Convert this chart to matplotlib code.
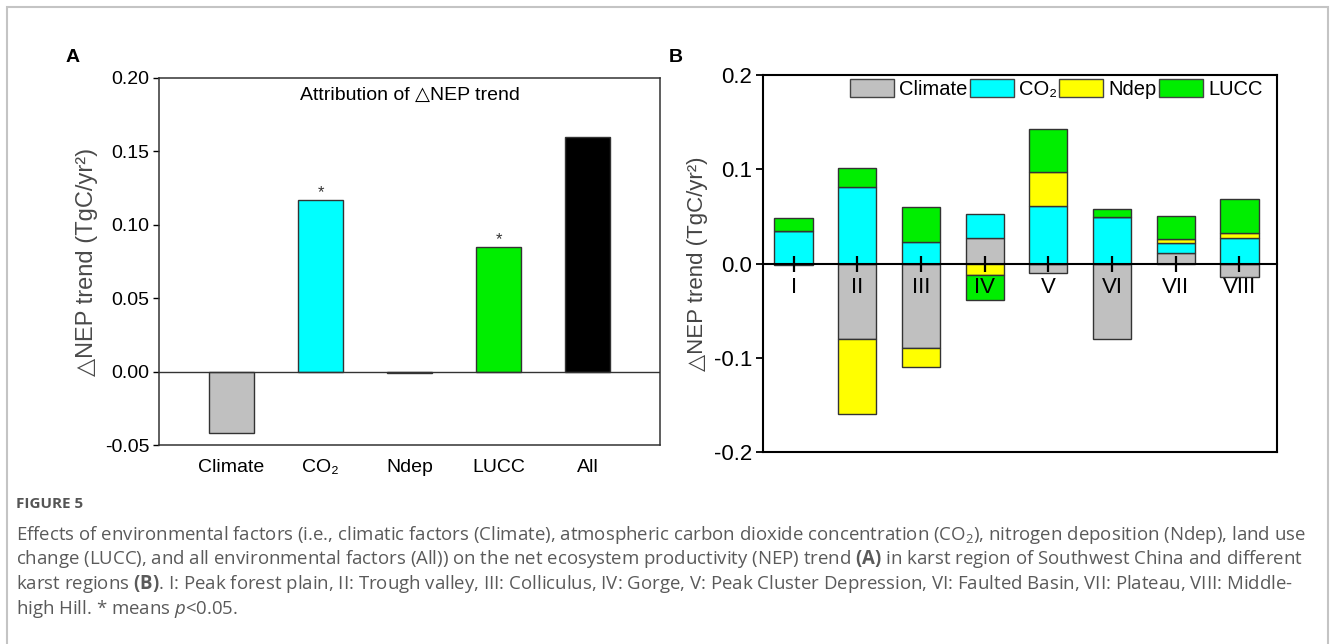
import numpy as np
import matplotlib
matplotlib.use("Agg")
import matplotlib.pyplot as plt
from matplotlib.patches import Patch, Rectangle

plt.rcParams["font.family"] = ["Liberation Sans", "DejaVu Sans"]
plt.rcParams["mathtext.fontset"] = "custom"
plt.rcParams["mathtext.rm"] = "Open Sans"
plt.rcParams["mathtext.bf"] = "Open Sans:bold"
plt.rcParams["mathtext.it"] = "Open Sans:italic"

# ---- data: panel A (whole karst region) ----
factors_a = ["Climate", "CO₂", "Ndep", "LUCC", "All"]
trend_a = [-0.042, 0.117, -0.001, 0.085, 0.160]
signif_a = [False, True, False, True, False]
colors_a = ["#C0C0C0", "#00FFFF", "#FFFF00", "#00EE00", "#000000"]

# ---- data: panel B (karst sub-regions) ----
regions = ["I", "II", "III", "IV", "V", "VI", "VII", "VIII"]
climate = [-0.0015, -0.080, -0.090, 0.027, -0.010, -0.080, 0.011, -0.014]
co2 = [0.034, 0.081, 0.023, 0.026, 0.061, 0.049, 0.011, 0.027]
ndep = [0.000, -0.080, -0.020, -0.012, 0.036, 0.000, 0.0035, 0.0053]
lucc = [0.014, 0.020, 0.037, -0.027, 0.046, 0.009, 0.025, 0.036]
series_b = [("Climate", climate, "#C0C0C0"), ("CO₂", co2, "#00FFFF"),
            ("Ndep", ndep, "#FFFF00"), ("LUCC", lucc, "#00EE00")]

YLABEL = "△NEP trend (TgC/yr²)"
W, H = 1330, 644

fig = plt.figure(figsize=(W / 100, H / 100), dpi=100)

def box(l, t, r, b):
    return [l / W, 1 - b / H, (r - l) / W, (b - t) / H]

# ================= panel A =================
axA = fig.add_axes(box(159, 78, 660, 445))
xa = np.arange(1, len(factors_a) + 1)
axA.bar(xa, trend_a, width=0.5, color=colors_a, edgecolor="#333333", lw=1.0, zorder=2)
axA.axhline(0, color="#333333", lw=1.0, zorder=3)
for x, v, s in zip(xa, trend_a, signif_a):
    if s:
        axA.annotate("*", (x, v), xytext=(0, 0), textcoords="offset points",
                     ha="center", va="bottom", fontsize=12, color="#333333")
axA.set_xlim(0.185, 5.815)
axA.set_ylim(-0.05, 0.20)
axA.set_yticks(np.arange(-0.05, 0.201, 0.05))
axA.set_yticklabels([f"{t:.2f}" for t in np.arange(-0.05, 0.201, 0.05)])
axA.set_xticks(xa)
axA.set_xticklabels(factors_a)
axA.tick_params(axis="x", length=0, pad=10, labelsize=14)
axA.tick_params(axis="y", direction="out", length=4, width=1.0, pad=3, labelsize=14)
for sp in axA.spines.values():
    sp.set_color("#333333")
    sp.set_linewidth(1.1)
axA.set_ylabel(YLABEL, fontsize=17, color="#4a4a4a", labelpad=5)
axA.text(0.5, 0.975, "Attribution of △NEP trend", transform=axA.transAxes,
         ha="center", va="top", fontsize=14)

# ================= panel B =================
axB = fig.add_axes(box(763, 75, 1277, 452))
xb = np.arange(1, len(regions) + 1)
pos_bottom = np.zeros(len(regions))
neg_bottom = np.zeros(len(regions))
handles = []
for name, vals, col in series_b:
    vals = np.asarray(vals)
    bottom = np.where(vals >= 0, pos_bottom, neg_bottom)
    axB.bar(xb, vals, width=0.6, bottom=bottom, color=col,
            edgecolor="#333333", lw=1.0, zorder=1)
    pos_bottom = pos_bottom + np.where(vals > 0, vals, 0)
    neg_bottom = neg_bottom + np.where(vals < 0, vals, 0)
    handles.append(Patch(facecolor=col, edgecolor="#444444", lw=1.0, label=name))

axB.set_xlim(0.52, 8.59)
axB.set_ylim(-0.2, 0.2)
axB.set_yticks([-0.2, -0.1, 0.0, 0.1, 0.2])
axB.set_yticklabels(["-0.2", "-0.1", "0.0", "0.1", "0.2"])
axB.set_xticks(xb)
axB.set_xticklabels(regions)
axB.spines["bottom"].set_position(("data", 0))
axB.plot([0, 1], [0, 0], transform=axB.transAxes, color="black", lw=1.5, clip_on=False)
axB.tick_params(axis="x", direction="inout", length=12, width=1.6, pad=4, labelsize=16)
axB.tick_params(axis="y", direction="out", length=5, width=1.3, pad=3, labelsize=16)
for sp in axB.spines.values():
    sp.set_color("black")
    sp.set_linewidth(1.5)
axB.set_ylabel(YLABEL, fontsize=16, color="#444444", labelpad=4)
axB.legend(handles=handles, loc="upper left", bbox_to_anchor=(0.169, 0.99),
           ncol=4, frameon=False, fontsize=14.5, handlelength=2.2,
           handleheight=1.05, handletextpad=0.25, columnspacing=0.1,
           borderpad=0, borderaxespad=0)

# ================= panel letters, border, caption =================
fig.text(73 / W, 1 - 58 / H, "A", fontsize=14, fontweight="bold", ha="center", va="center")
fig.text(676 / W, 1 - 58 / H, "B", fontsize=14, fontweight="bold", ha="center", va="center")
fig.patches.append(Rectangle((7 / W, -0.05), 1321 / W, 1 - 7 / H + 0.05,
                             transform=fig.transFigure, fill=False,
                             edgecolor="#c4c4c4", lw=1.5))

cap = dict(fontsize=13.4, color="#5a5a5a", family="Open Sans", ha="left", va="center")
fig.text(16 / W, 1 - 504 / H, "FIGURE 5", fontsize=11, fontweight="bold",
         color="#555555", family="Open Sans", ha="left", va="center")
lines = [
    "Effects of environmental factors (i.e., climatic factors (Climate), atmospheric carbon dioxide "
    "concentration (CO$_2$), nitrogen deposition (Ndep), land use",
    "change (LUCC), and all environmental factors (All)) on the net ecosystem productivity (NEP) trend "
    r"$\mathbf{(A)}$ in karst region of Southwest China and different",
    r"karst regions $\mathbf{(B)}$. I: Peak forest plain, II: Trough valley, III: Colliculus, IV: Gorge, "
    "V: Peak Cluster Depression, VI: Faulted Basin, VII: Plateau, VIII: Middle-",
    r"high Hill. * means $\mathit{p}$<0.05.",
]
for i, ln in enumerate(lines):
    fig.text(16 / W, 1 - (535 + 24.5 * i) / H, ln, **cap)

fig.savefig("out.png", dpi=100)
